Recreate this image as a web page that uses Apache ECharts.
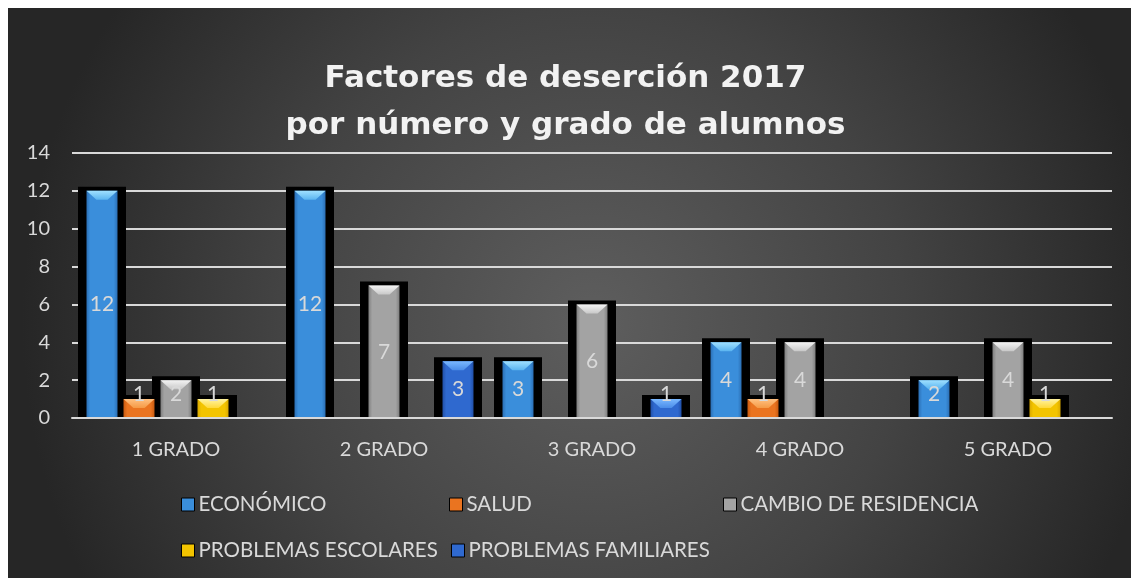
<!DOCTYPE html>
<html><head><meta charset="utf-8">
<script src="https://cdn.jsdelivr.net/npm/echarts@6/dist/echarts.min.js"></script>
<style>html,body{margin:0;padding:0;background:#fff;}#c{width:1131px;height:578px;}</style>
</head><body><div id="c"></div>
<script>
const categories = ['1 GRADO', '2 GRADO', '3 GRADO', '4 GRADO', '5 GRADO'];
const seriesNames = ['ECONÓMICO', 'SALUD', 'CAMBIO DE RESIDENCIA', 'PROBLEMAS ESCOLARES', 'PROBLEMAS FAMILIARES'];
const economico  = [12, 12, 3, 4, 2];
const salud      = [1, null, null, 1, null];
const cambio     = [2, 7, 6, 4, 4];
const escolares  = [1, null, null, null, 1];
const familiares = [null, 3, 1, null, null];
const yMin = 0, yMax = 14, yStep = 2;

const seriesValues = [economico, salud, cambio, escolares, familiares];
const palettes = [
  {base: '#3a8edb', edge: '#2b6fb5', light: '#9fe0ff', lightEdge: '#5ab4f0'},
  {base: '#ea7420', edge: '#c85a10', light: '#ffc080', lightEdge: '#f59a45'},
  {base: '#a3a3a3', edge: '#7f7f7f', light: '#f4f4f4', lightEdge: '#c8c8c8'},
  {base: '#f3c400', edge: '#d9a800', light: '#fff3a0', lightEdge: '#ffd93a'},
  {base: '#2f69cf', edge: '#2150a8', light: '#7ab8ff', lightEdge: '#4a8ce8'}
];
const FONT = 'Lato, "Open Sans", sans-serif';

function makeRender(si, pal) {
  return function (params, api) {
    const ci = api.value(0), v = api.value(1);
    if (v == null || isNaN(v)) return;
    const base = api.coord([ci, 0]);
    const top = api.coord([ci, v]);
    const band = api.size([1, 0])[0];
    const bw = band * 31 / 208;
    const gap = band * 6 / 208;
    const gw = 5 * bw + 4 * gap;
    const x = base[0] - gw / 2 + si * (bw + gap);
    const y = top[1];
    const h = base[1] - y;
    const m = 8.5;
    const bev = Math.min(9, h);
    const labelY = Math.min(y + h / 2, base[1] - 24);
    return {
      type: 'group',
      children: [
        {type: 'rect', z2: 0, shape: {x: x - m, y: y - 4, width: bw + 2 * m, height: h + 4}, style: {fill: '#000'}},
        {type: 'rect', z2: 10, shape: {x: x, y: y, width: bw, height: h},
          style: {fill: new echarts.graphic.LinearGradient(0, 0, 1, 0, [
            {offset: 0, color: pal.edge}, {offset: 0.12, color: pal.base},
            {offset: 0.88, color: pal.base}, {offset: 1, color: pal.edge}])}},
        {type: 'polygon', z2: 11, shape: {points: [[x, y], [x + bw, y], [x + bw * 0.68, y + bev], [x + bw * 0.32, y + bev]]},
          style: {fill: new echarts.graphic.LinearGradient(0, 0, 0, 1, [
            {offset: 0, color: pal.light}, {offset: 1, color: pal.lightEdge}])}},
        {type: 'text', z2: 20, style: {text: String(v), x: x + bw / 2, y: labelY, align: 'center', verticalAlign: 'middle',
          fill: '#d9d9d9', font: '21px ' + FONT}}
      ]
    };
  };
}

const series = seriesValues.map((vals, si) => ({
  type: 'custom',
  name: seriesNames[si],
  itemStyle: {color: palettes[si].base},
  renderItem: makeRender(si, palettes[si]),
  encode: {x: 0, y: 1},
  data: vals.map((v, i) => [i, v == null ? NaN : v])
}));

const legendPos = [[176, 489], [444, 489], [718, 489], [176, 535], [446, 535]];
const legends = seriesNames.map((n, i) => ({
  data: [n], left: legendPos[i][0], top: legendPos[i][1],
  icon: 'rect', itemWidth: 13, itemHeight: 13, itemGap: 0,
  itemStyle: {borderColor: '#000', borderWidth: 1},
  textStyle: {color: '#d9d9d9', fontSize: 20.5, fontFamily: FONT, padding: [0, 0, 0, -1]},
  selectedMode: false
}));

const chart = echarts.init(document.getElementById('c'), null, {renderer: 'canvas'});
chart.setOption({
  animation: false,
  backgroundColor: 'transparent',
  graphic: [{
    type: 'rect', z: -100, silent: true,
    shape: {x: 8, y: 8, width: 1123, height: 570},
    style: {fill: {type: 'radial', x: 0.52, y: 0.55, r: 1.0, colorStops: [
      {offset: 0, color: '#5e5e5e'}, {offset: 0.55, color: '#434343'}, {offset: 1, color: '#262626'}]}}
  }],
  title: {
    text: 'Factores de deserción 2017\npor número y grado de alumnos',
    left: 'center', top: 50,
    textStyle: {color: '#f2f2f2', fontSize: 31, fontWeight: 'bold', fontFamily: '"DejaVu Sans", sans-serif', lineHeight: 47}
  },
  legend: legends,
  grid: {left: 72, right: 19, top: 153, bottom: 160},
  xAxis: {
    type: 'category', data: categories, z: 10,
    axisLine: {lineStyle: {color: '#d9d9d9', width: 2}},
    axisTick: {show: false},
    axisLabel: {color: '#d9d9d9', fontSize: 20, fontFamily: FONT, margin: 22}
  },
  yAxis: {
    type: 'value', min: yMin, max: yMax, interval: yStep,
    axisLine: {show: false},
    axisTick: {show: false},
    axisLabel: {color: '#d9d9d9', fontSize: 20, fontFamily: FONT, margin: 22},
    splitLine: {lineStyle: {color: '#d9d9d9', width: 2}}
  },
  series: series
});
</script></body></html>
